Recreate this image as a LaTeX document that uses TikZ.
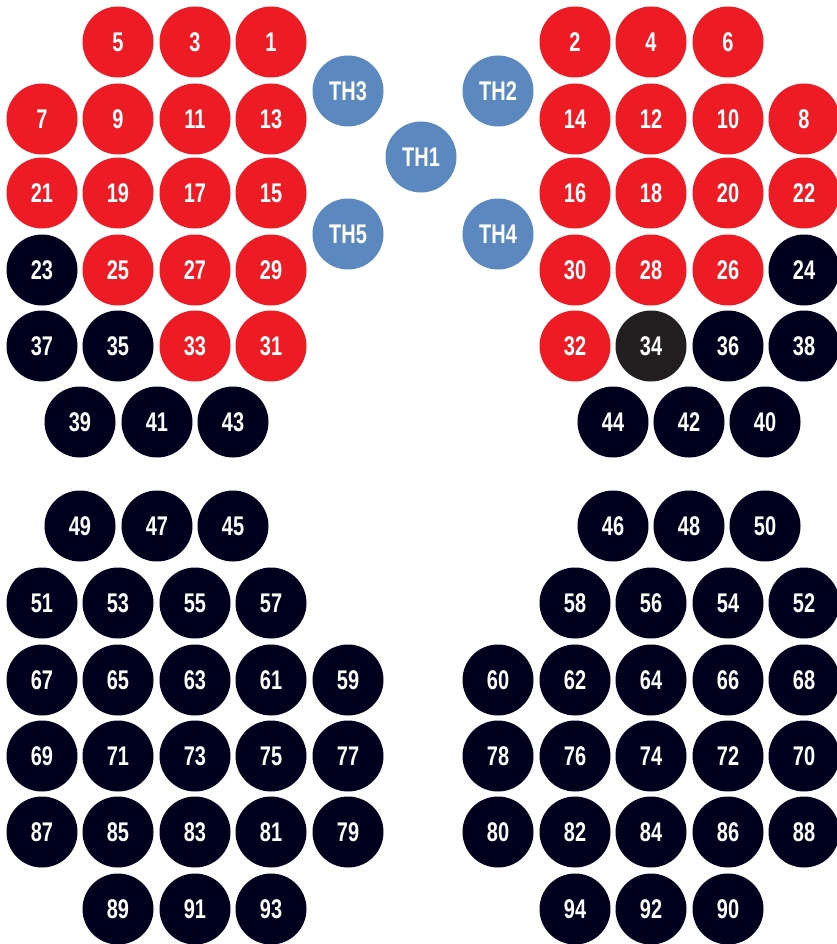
\documentclass[tikz,border=0pt]{standalone}
\usepackage{fontspec}
\setmainfont{Liberation Sans}[FakeStretch=0.74]
\usepackage{xcolor}
\usepackage{tikz}
\usetikzlibrary{positioning}
\definecolor{seatred}{HTML}{ED1C24}
\definecolor{seatnavy}{HTML}{00001E}
\definecolor{seatgrey}{HTML}{231F20}
\definecolor{seatblue}{HTML}{5B88BF}

\begin{document}
\begin{tikzpicture}[x=1pt, y=-1pt, font=\fontsize{27}{27}\selectfont\bfseries,
        seat/.style={circle, minimum size=71pt, inner sep=0pt, text=white},
        red/.style={seat, fill=seatred},
        navy/.style={seat, fill=seatnavy},
        grey/.style={seat, fill=seatgrey},
        tab/.style={seat, fill=seatblue}]
        \useasboundingbox (0,0) rectangle (836,944);
        % table seats in the middle
        \node[tab] (th1) at (421,157) {TH1};
        \node[tab] (th2) at (498,91) {TH2};
        \node[tab] (th3) at (348,91) {TH3};
        \node[tab] (th4) at (498,234) {TH4};
        \node[tab] (th5) at (348,234) {TH5};
        % red seats, upper block
        \foreach \y/\row in {42/{5/118,3/195,1/271,2/575,4/651,6/728},
            119/{7/42,9/118,11/195,13/271,14/575,12/651,10/728,8/804},
            193/{21/42,19/118,17/195,15/271,16/575,18/651,20/728,22/804},
            270/{25/118,27/195,29/271,30/575,28/651,26/728},
            346/{33/195,31/271,32/575}}
          \foreach \n/\x in \row
            \node[red] (s\n) at (\x,\y) {\n};
        \node[grey] (s34) at (651,346) {34};
        % navy seats, upper block
        \foreach \y/\row in {270/{23/42,24/804},
            346/{37/42,35/118,36/728,38/804},
            422/{39/80,41/157,43/233,44/613,42/689,40/765}}
          \foreach \n/\x in \row
            \node[navy] (s\n) at (\x,\y) {\n};
        % navy seats, lower block
        \foreach \y/\row in {526/{49/80,47/157,45/233,46/613,48/689,50/765},
            603/{51/42,53/118,55/195,57/271,58/575,56/651,54/728,52/804},
            680/{67/42,65/118,63/195,61/271,59/348,60/498,62/575,64/651,66/728,68/804},
            756/{69/42,71/118,73/195,75/271,77/348,78/498,76/575,74/651,72/728,70/804},
            832/{87/42,85/118,83/195,81/271,79/348,80/498,82/575,84/651,86/728,88/804},
            909/{89/118,91/195,93/271,94/575,92/651,90/728}}
          \foreach \n/\x in \row
            \node[navy] (s\n) at (\x,\y) {\n};
      \end{tikzpicture}
\end{document}
